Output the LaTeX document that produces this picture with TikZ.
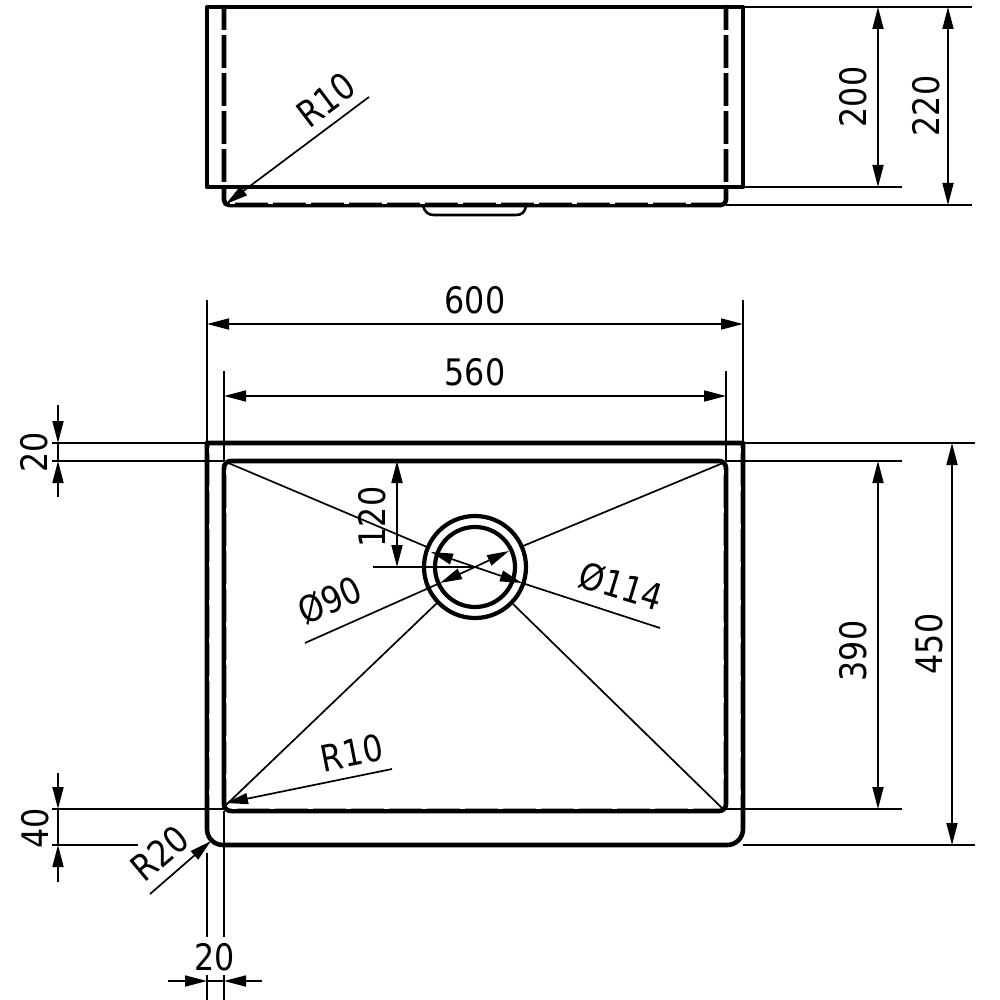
\documentclass[tikz,border=0pt]{standalone}
\usepackage{fontspec}
\setmainfont[FakeStretch=0.87]{DejaVu Sans}
\usetikzlibrary{arrows.meta}
\tikzset{
  thin line/.style={line width=1.7pt,black},
  body/.style={line width=4.6pt,black,line cap=round,line join=round},
  nick/.style={line width=1.6pt,white,dash pattern=on 5pt off 33pt},
  gap/.style={line width=5.2pt,white,dash pattern=on 5pt off 33pt},
  dim/.style={thin line,{Triangle[length=22pt,width=11pt]}-{Triangle[length=22pt,width=11pt]}},
  lead/.style={thin line,-{Triangle[length=22pt,width=11pt]}},
  lbl/.style={font=\fontsize{36.5}{36.5}\selectfont,inner sep=0pt,text=black},
}
\begin{document}
\begin{tikzpicture}[x=1pt,y=-1pt]
\path[use as bounding box,fill=white] (0,0) rectangle (1000,1000);
% --- extension lines, top view
\draw[thin line] (743,7) -- (972,7) (743,187) -- (902,187) (726,205) -- (972,205);
% --- extension lines, plan view
\draw[thin line] (207,300) -- (207,443) (743,300) -- (743,443)
  (224,371) -- (224,461) (726,371) -- (726,461)
  (52,443) -- (207,443) (743,443) -- (975,443)
  (52,461) -- (224,461) (726,461) -- (902,461)
  (52,809) -- (224,809) (726,809) -- (902,809)
  (52,845) -- (138,845) (743,845) -- (975,845)
  (207,853) -- (207,937) (224,811) -- (224,937)
  (207,975) -- (207,1000) (224,975) -- (224,1000);
% --- top view
\draw[body] (207,187) -- (207,7) -- (743,7) -- (743,187) -- cycle;
\draw[body] (224,7) -- (224,200) .. controls (224,203) and (226,205) .. (229,205) -- (721,205)
  .. controls (724,205) and (726,203) .. (726,200) -- (726,7);
\draw[gap] (224,30) -- (224,185);
\draw[gap] (726,30) -- (726,185);
\draw[nick] (209.5,12) -- (209.5,185);
\draw[nick] (740.5,12) -- (740.5,185);
\draw[nick] (212,9.5) -- (740,9.5);
\draw[nick] (230,203.2) -- (720,203.2);
\draw[line width=2.6pt,line cap=round,line join=round] (423,206) .. controls (425,212) and (428,215) .. (434,215)
  -- (516,215) .. controls (522,215) and (525,212) .. (526,206);
% --- plan view
\draw[body] (207,443) -- (743,443) -- (743,829)
  .. controls (743,838) and (736,845) .. (727,845) -- (223,845)
  .. controls (214,845) and (207,838) .. (207,829) -- cycle;
\draw[body] (231,461) -- (719,461) .. controls (723,461) and (726,464) .. (726,468)
  -- (726,804) .. controls (726,808) and (723,811) .. (719,811)
  -- (231,811) .. controls (227,811) and (224,808) .. (224,804)
  -- (224,468) .. controls (224,464) and (227,461) .. (231,461) -- cycle;
\draw[nick] (209.5,448) -- (209.5,825);
\draw[nick] (740.5,448) -- (740.5,825);
\draw[nick] (226.5,470) -- (226.5,802);
\draw[nick] (723.5,470) -- (723.5,802);
\draw[nick] (232,808.5) -- (718,808.5);
% drain
\draw[line width=4.2pt] (475,567) circle[radius=51];
\draw[line width=4.2pt] (475,567) circle[radius=40];
% diagonals
\draw[thin line] (226,462) -- (427,547);
\draw[thin line] (723,463) -- (523,546);
\draw[thin line] (437,603) -- (226,805);
\draw[thin line] (513,604) -- (723,809);
% leaders
\draw[dim] (431,552) -- (475,567) -- (522,583);
\draw[thin line] (522,583) -- (660,628);
\draw[dim] (509,551) -- (475,567) -- (440,583);
\draw[thin line] (440,583) -- (305,643);
\draw[lead] (369,97) -- (226,204);
\draw[lead] (392,769) -- (226,803);
\draw[lead] (150,894) -- (211,841);
% dimensions
\draw[dim] (878,7) -- (878,187);
\draw[dim] (948,7) -- (948,205);
\draw[dim] (207,324) -- (743,324);
\draw[dim] (224,396) -- (726,396);
\draw[dim] (878,461) -- (878,809);
\draw[dim] (952,443) -- (952,845);
\draw[dim] (397,461) -- (397,567);
\draw[thin line] (373,567) -- (475,567);
% outward dimensions
\draw[lead] (58,405) -- (58,443);
\draw[lead] (58,497) -- (58,461);
\draw[thin line] (58,443) -- (58,461);
\draw[lead] (58,773) -- (58,809);
\draw[lead] (58,882) -- (58,845);
\draw[thin line] (58,809) -- (58,845);
\draw[lead] (168,981) -- (207,981);
\draw[lead] (262,981) -- (224,981);
\draw[thin line] (207,981) -- (224,981);
% labels
\node[lbl,rotate=90] (d200) at (853,97) {200};
\node[lbl,rotate=90] (d220) at (926,106) {220};
\node[lbl,rotate=37] (r10a) at (326,100) {R10};
\node[lbl] (d600) at (475,300) {600};
\node[lbl] (d560) at (475,372) {560};
\node[lbl,rotate=90] (d20a) at (34,452) {20};
\node[lbl,rotate=90] (d120) at (372,517) {120};
\node[lbl,rotate=-17] (o114) at (621,586) {Ø114};
\node[lbl,rotate=24] (o90) at (330,600) {Ø90};
\node[lbl,rotate=90] (d390) at (853,651) {390};
\node[lbl,rotate=90] (d450) at (929,644) {450};
\node[lbl,rotate=11] (r10b) at (352,753) {R10};
\node[lbl,rotate=90] (d40) at (35,828) {40};
\node[lbl,rotate=40] (r20) at (160,853) {R20};
\node[lbl] (d20b) at (215,957) {20};
\end{tikzpicture}
\end{document}
